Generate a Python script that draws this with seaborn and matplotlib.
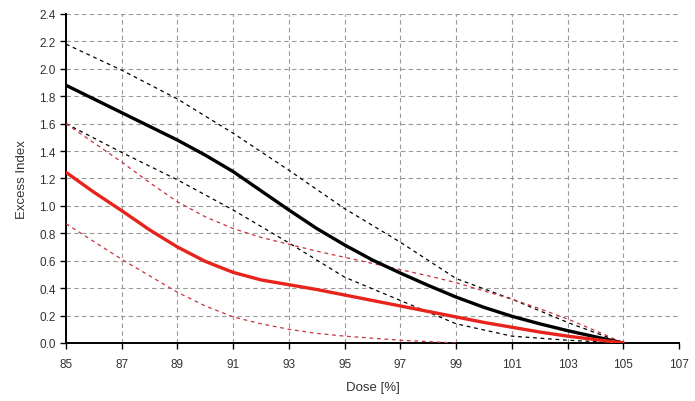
import matplotlib
matplotlib.use("Agg")
import matplotlib.pyplot as plt
import seaborn as sns
import pandas as pd

# Dose grids [%]
dose = list(range(85, 106))
dose_coarse = [85, 87, 89, 91, 93, 95, 97, 99, 101, 103, 105]
red_lower_dose = list(range(85, 100))

# Excess index curves
black_mean = [1.88, 1.78, 1.68, 1.58, 1.48, 1.37, 1.25, 1.11, 0.97, 0.835, 0.715,
              0.605, 0.51, 0.42, 0.335, 0.26, 0.195, 0.14, 0.09, 0.045, 0.0]
red_mean = [1.245, 1.10, 0.965, 0.825, 0.70, 0.595, 0.515, 0.46, 0.425, 0.39, 0.35,
            0.31, 0.27, 0.23, 0.19, 0.15, 0.115, 0.08, 0.05, 0.025, 0.0]
red_upper = [1.60, 1.46, 1.32, 1.17, 1.03, 0.92, 0.835, 0.77, 0.72, 0.67, 0.625,
             0.58, 0.535, 0.49, 0.44, 0.38, 0.32, 0.25, 0.175, 0.09, 0.0]
red_lower = [0.87, 0.74, 0.61, 0.49, 0.37, 0.27, 0.19, 0.14, 0.10, 0.07, 0.05,
             0.035, 0.02, 0.01, 0.0]
black_upper = [2.18, 1.99, 1.78, 1.53, 1.26, 0.98, 0.735, 0.47, 0.32, 0.15, 0.0]
black_lower = [1.60, 1.39, 1.19, 0.97, 0.73, 0.48, 0.31, 0.14, 0.05, 0.02, 0.0]

x_ticks = [85, 87, 89, 91, 93, 95, 97, 99, 101, 103, 105, 107]
y_ticks = [0.0, 0.2, 0.4, 0.6, 0.8, 1.0, 1.2, 1.4, 1.6, 1.8, 2.0, 2.2, 2.4]

sns.set_style("white")
plt.rcParams["font.family"] = ["Liberation Sans", "DejaVu Sans"]

fig = plt.figure(figsize=(6.95, 4.02), dpi=100)
ax = fig.add_axes([0.095, 0.1443, 0.882, 0.8184])

RED = "#e8231c"
RED_D = "#c8323c"

def draw(xs, ys, color, lw, dashes=None):
    df = pd.DataFrame({"dose": xs, "idx": ys})
    sns.lineplot(data=df, x="dose", y="idx", ax=ax, color=color,
                 linewidth=lw, sort=False, estimator=None)
    line = ax.lines[-1]
    if dashes:
        line.set_dashes(dashes)
    line.set_zorder(3)

draw(dose_coarse, black_upper, "black", 0.9, (3, 3))
draw(dose_coarse, black_lower, "black", 0.9, (3, 3))
draw(dose, red_upper, RED_D, 0.9, (3, 3))
draw(red_lower_dose, red_lower, RED_D, 0.9, (3, 3))
draw(dose, black_mean, "black", 2.4)
draw(dose, red_mean, RED, 2.4)

ax.set_xlim(85, 107)
ax.set_ylim(0, 2.4)
ax.set_xticks(x_ticks)
ax.set_xticklabels([str(t) for t in x_ticks])
ax.set_yticks(y_ticks)
ax.set_yticklabels([f"{t:.1f}" for t in y_ticks])

ax.grid(True, color="#999999", linestyle=(0, (4, 3)), linewidth=0.8)
ax.set_axisbelow(True)
for s in ("top", "right"):
    ax.spines[s].set_visible(False)
ax.spines["left"].set_color("black")
ax.spines["bottom"].set_color("black")
ax.spines["left"].set_linewidth(1.4)
ax.spines["bottom"].set_linewidth(1.4)

ax.tick_params(axis="both", which="both", direction="out", length=4,
               width=1, color="black", labelsize=8.5, labelcolor="#333333",
               bottom=True, left=True)
ax.tick_params(axis="x", pad=7)

ax.set_xlabel("Dose [%]", fontsize=9.5, color="#333333", labelpad=8)
ax.set_ylabel("Excess Index", fontsize=9.5, color="#333333", labelpad=8)

fig.savefig("out.png", dpi=100)
